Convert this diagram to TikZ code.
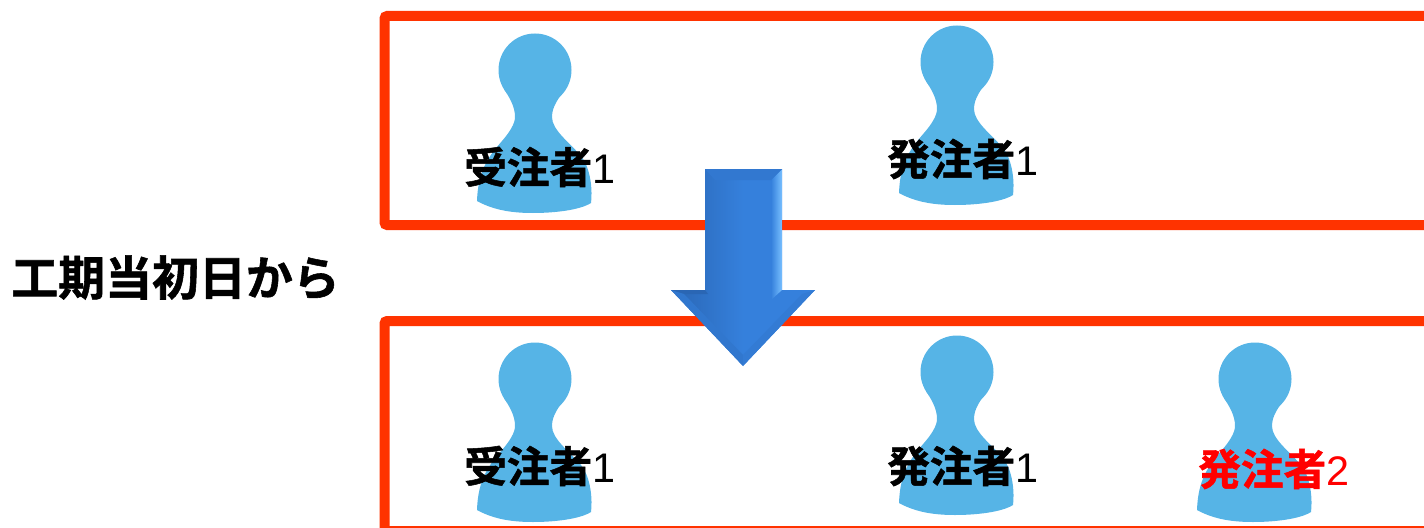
\documentclass[tikz,border=0pt]{standalone}
\usepackage{fontspec}
\newfontfamily\cjkb[FakeBold=1.2]{Noto Sans CJK JP Bold}
\setmainfont{Liberation Sans}
\newcommand{\digitpart}[1]{{\fontsize{31pt}{34pt}\selectfont #1}}
\definecolor{frame}{HTML}{FF3300}
\definecolor{pawn}{HTML}{56B4E6}
\definecolor{arrowmid}{HTML}{3580DC}
\definecolor{arrowdark}{HTML}{2A66B4}
\definecolor{arrowlight}{HTML}{78C0FF}
\tikzset{
  frameline/.style={draw=frame,line width=7.5,rounded corners=2},
  lbl/.style={anchor=west,inner sep=0,font=\fontsize{32pt}{34pt}\selectfont},
  pawnshape/.pic={
    \fill[pawn] (0,0) circle[radius=36.5];
    \fill[pawn] (-31,19) .. controls (-26,27) and (-20,36) .. (-20,47)
      .. controls (-20,54) and (-26,63) .. (-33,71)
      .. controls (-46,86) and (-57,100) .. (-58,131)
      .. controls (-40,141) and (-20,143) .. (-2,143)
      .. controls (20,143) and (45,140) .. (56,133)
      .. controls (58,115) and (54,96) .. (46,86)
      .. controls (34,72) and (17,60) .. (17,47)
      .. controls (17,36) and (24,28) .. (30,19) -- cycle;
  }
}
\begin{document}
\begin{tikzpicture}[x=0.75pt,y=-0.75pt]
\useasboundingbox (0,0) rectangle (1424,528);
\clip (0,0) rectangle (1424,528);
\draw[frameline] (1440,16) -- (384.5,16) -- (384.5,225) -- (1440,225);
\draw[frameline] (1440,321) -- (384.5,321) -- (384.5,560);
\draw[draw=frame,line width=2] (384.5,527.5) -- (1440,527.5);
\pic at (535,70) {pawnshape};
\pic at (957,62) {pawnshape};
\pic at (535,379) {pawnshape};
\pic at (957,372) {pawnshape};
\pic at (1255,379) {pawnshape};
% block arrow
\shade[left color=arrowdark,right color=arrowmid,middle color=arrowmid]
  (705,169) -- (782,169) -- (782,290) -- (815,290) -- (743,366) -- (671,290) -- (705,290) -- cycle;
\shade[left color=arrowmid,right color=arrowlight]
  (771,180) -- (782,169) -- (782,290) -- (771,300) -- cycle;
\fill[arrowmid!70!arrowdark] (705,169) -- (782,169) -- (771,180) -- (715,180) -- cycle;
\fill[arrowdark] (671,290) -- (705,290) -- (708,294) -- (684,294) -- cycle;
\fill[arrowmid!65!arrowdark] (671,290) -- (684,294) -- (743,355) -- (743,366) -- cycle;
\fill[arrowmid!80!arrowdark] (815,290) -- (802,294) -- (743,355) -- (743,366) -- cycle;
\node[lbl] (r1) at (464,167) {{\cjkb 受注者}\digitpart{1}};
\node[lbl] (o1) at (887,159) {{\cjkb 発注者}\digitpart{1}};
\node[lbl] (r2) at (464,466) {{\cjkb 受注者}\digitpart{1}};
\node[lbl] (o2) at (887,466) {{\cjkb 発注者}\digitpart{1}};
\node[lbl,text=red] (o3) at (1198,469) {{\cjkb 発注者}\digitpart{2}};
\node[anchor=west,inner sep=0,font=\fontsize{35.2pt}{37pt}\selectfont] (title) at (11,277.5) {\cjkb 工期当初日から};
\end{tikzpicture}
\end{document}
